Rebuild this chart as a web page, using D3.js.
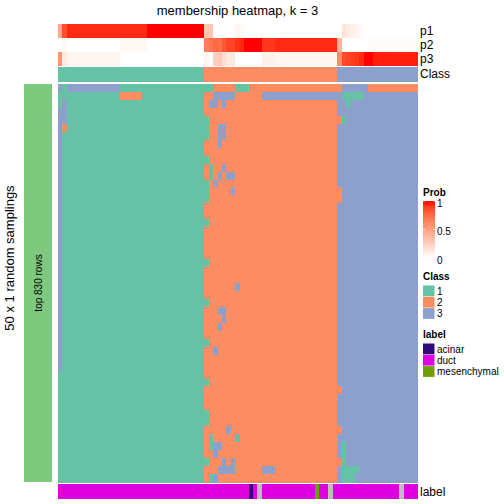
<!DOCTYPE html>
<html><head><meta charset="utf-8">
<script src="https://cdn.jsdelivr.net/npm/d3@7/dist/d3.min.js"></script>
<style>body{margin:0;background:#fff}svg{display:block;font-family:"Liberation Sans",Arial,Helvetica,sans-serif}</style>
</head><body><svg id="c" width="504" height="504"></svg>
<script>
// ---- data ----
const nCols = 81;
const classOfCol = ["1","1","1","1","1","1","1","1","1","1","1","1","1","1","1","1","1","1","1","1","1","1","1","1","1","1","1","1","1","1","1","1","1",
 "2","2","2","2","2","2","2","2","2","2","2","2","2","2","2","2","2","2","2","2","2","2","2","2","2","2","2","2","2","2",
 "3","3","3","3","3","3","3","3","3","3","3","3","3","3","3","3","3","3"];
const p1 = [0.45,0.85,0.95,0.95,0.95,0.95,0.95,0.95,0.95,0.95,0.95,0.95,0.95,0.95,0.95,0.95,0.95,0.95,0.95,0.95,1,1,1,1,1,1,1,1,1,1,1,1,1,
 0.3,0.3,0,0,0,0,0,0.05,0.03,0,0,0,0,0,0,0,0,0,0,0,0,0,0,0,0,0,0,0,0,0,
 0,0.15,0.1,0.08,0.05,0.03,0,0,0,0,0,0,0,0,0,0,0,0];
const p2 = [0,0.03,0,0,0,0,0,0,0,0,0,0,0,0,0.04,0.04,0.04,0.04,0.04,0.04,0,0,0,0,0,0,0,0,0,0,0,0,0,
 0.65,0.7,0.75,0.72,0.82,0.88,0.88,0.93,0.96,1,1,1,1,0.92,0.92,0.92,0.95,0.95,0.95,0.95,0.95,0.95,0.95,0.95,0.95,0.95,0.95,0.95,0.95,0.95,
 0.4,0,0,0,0,0,0,0.02,0.02,0.02,0.02,0.02,0.02,0.02,0.02,0.02,0.02,0.02];
const p3 = [0.55,0.12,0.05,0.05,0.05,0.05,0.05,0.05,0.05,0.05,0.05,0.05,0.05,0.05,0,0,0,0,0,0,0,0,0,0,0,0,0,0,0,0,0,0,0,
 0.05,0,0.25,0.28,0.18,0.12,0.12,0,0,0,0,0,0,0.07,0.07,0.07,0.05,0.05,0.05,0.05,0.05,0.05,0.05,0.05,0.05,0.05,0.05,0.05,0.05,0.05,
 0.6,0.85,0.88,0.9,0.92,0.95,1,1,0.97,0.97,0.97,0.97,0.97,0.97,0.97,0.97,0.97,0.97];
// label of each column as ranges
const labelRuns = "0-42:duct 43:acinar 44:duct 45:NA 46-57:duct 58:mesenchymal 59-60:duct 61:NA 62-76:duct 77:NA 78-80:duct";
// membership of each sampling (row) by column, as ranges "cols:class"
const rowRuns = [
"0:3 1:1 2-13:3 14-34:1 35-39:2 40-42:1 43-63:2 64-69:3 70-80:2",
"0-13:1 14-18:2 19-32:1 33-34:2 35-39:3 40-45:2 46-63:3 64-68:1 69-80:3",
"0:1 1:3 2-32:1 33:2 34-35:3 36:2 37:3 38-62:2 63-64:3 65:1 66-80:3",
"0-1:3 2-32:1 33-62:2 63-80:3",
"0-1:3 2-33:1 34-63:2 64:1 65-80:3",
"0:3 1:2 2-33:1 34-35:2 36-37:3 38-62:2 63-80:3",
"0:3 1-33:1 34-35:2 36-37:3 38-62:2 63-80:3",
"0:3 1-32:1 33-35:2 36:3 37-62:2 63-80:3",
"0:3 1-32:1 33-62:2 63-80:3",
"0:3 1-33:1 34-62:2 63-80:3",
"0:3 1-32:1 33:2 34:1 35-36:2 37:3 38-62:2 63-80:3",
"0:3 1-32:1 33:2 34:1 35:2 36:3 37:2 38-39:3 40-62:2 63-80:3",
"0:3 1-33:1 34:2 35:3 36-62:2 63-80:3",
"0:3 1-33:1 34-38:2 39:3 40-63:2 64-80:3",
"0:3 1-33:1 34-63:2 64-80:3",
"0:3 1-32:1 33-62:2 63-80:3",
"0:3 1-32:1 33-62:2 63-80:3",
"0:3 1-33:1 34-62:2 63-80:3",
"0:3 1-32:1 33-62:2 63-80:3",
"0:3 1-32:1 33-62:2 63-80:3",
"0:3 1-32:1 33-62:2 63-80:3",
"0:3 1-32:1 33-62:2 63-80:3",
"0:3 1-33:1 34-62:2 63-80:3",
"0:3 1-32:1 33-62:2 63-80:3",
"0:3 1-32:1 33-62:2 63-80:3",
"0:3 1-32:1 33-39:2 40:3 41-62:2 63-80:3",
"0:3 1-32:1 33-62:2 63-80:3",
"0:3 1-33:1 34-62:2 63-80:3",
"0:3 1-32:1 33-35:2 36-37:3 38-62:2 63-80:3",
"0:3 1-32:1 33-36:2 37:3 38-62:2 63-80:3",
"0:3 1-32:1 33-35:2 36:3 37-62:2 63-80:3",
"0:3 1-32:1 33-62:2 63-80:3",
"0:3 1-33:1 34-62:2 63-80:3",
"0:3 1-32:1 33-34:2 35:3 36-62:2 63-80:3",
"0:3 1-32:1 33-62:2 63-80:3",
"0:3 1-32:1 33-62:2 63-80:3",
"0-32:1 33-62:2 63-80:3",
"0-33:1 34-62:2 63-80:3",
"0-32:1 33-63:2 64-80:3",
"0-32:1 33-62:2 63-80:3",
"0-32:1 33-62:2 63-80:3",
"0-33:1 34-62:2 63-80:3",
"0-33:1 34-62:2 63-80:3",
"0-32:1 33-37:2 38:3 39-63:2 64-80:3",
"0-32:1 33:2 34:1 35-39:2 40:1 41-62:2 63-80:3",
"0-32:1 33:2 34:1 35-36:3 37-62:2 63:3 64:1 65-80:3",
"0-32:1 33-34:2 35:3 36-62:2 63:3 64:1 65-80:3",
"0-33:1 34-36:2 37:3 38:2 39:3 40-63:2 64:1 65-80:3",
"0-32:1 33-35:2 36-39:3 40-45:2 46-48:3 49-62:2 63:3 64-67:1 68-80:3",
"0-32:1 33:2 34:1 35:3 36-62:2 63:3 64-66:1 67-80:3"
];
const classNames = ["1","2","3"];
const classColors = ["#66C2A5","#FC8D62","#8DA0CB"];
const labelNames = ["acinar","duct","mesenchymal"];
const labelColors = ["#2E0A7A","#DE00DE","#6E9E0A"];
const naColor = "#BEBEBE";
const probTicks = [1, 0.5, 0];
const titleText = "membership heatmap, k = 3";
const rowTitle = "50 x 1 random samplings";
const sliceTitle = "top 830 rows";

// ---- helpers ----
function expand(runs){
  const out = new Array(nCols).fill(null);
  runs.split(/\s+/).forEach(tok=>{
    const [rng,val] = tok.split(":");
    const [a,b] = rng.split("-").map(Number);
    for(let i=a;i<=(isNaN(b)?a:b);i++) out[i]=val;
  });
  return out;
}
const matrix = rowRuns.map(expand);
const labels = expand(labelRuns);

const svg = d3.select("#c");
const x = d3.scaleBand().domain(d3.range(nCols)).range([58,417]);
const y = d3.scaleBand().domain(d3.range(rowRuns.length)).range([84,482]);
const cls = d3.scaleOrdinal().domain(classNames).range(classColors);
const lab = d3.scaleOrdinal().domain(labelNames).range(labelColors).unknown(naColor);
const prob = d3.scaleLinear().domain([0,1]).range(["#FFFFFF","#FF0000"]).interpolate(d3.interpolateLab);

// title
svg.append("text").attr("x",237.5).attr("y",15).attr("text-anchor","middle")
  .attr("font-size",13).text(titleText);

// top annotations
const annRows = [{name:"p1",vals:p1,y0:24,h:14},{name:"p2",vals:p2,y0:38,h:14},{name:"p3",vals:p3,y0:52,h:14}];
annRows.forEach(a=>{
  svg.append("g").attr("shape-rendering","crispEdges").selectAll("rect").data(a.vals).join("rect")
    .attr("x",(d,i)=>x(i)).attr("width",x.bandwidth()+0.5)
    .attr("y",a.y0).attr("height",a.h).attr("fill",d=>prob(d));
  svg.append("text").attr("x",420).attr("y",a.y0+a.h/2).attr("dy","0.36em")
    .attr("font-size",12).text(a.name);
});
svg.append("g").attr("shape-rendering","crispEdges").selectAll("rect").data(classOfCol).join("rect")
  .attr("x",(d,i)=>x(i)).attr("width",x.bandwidth()+0.5)
  .attr("y",67).attr("height",14.5).attr("fill",d=>cls(d));
svg.append("text").attr("x",420).attr("y",74).attr("dy","0.36em").attr("font-size",12).text("Class");

// heatmap body
const cells = [];
matrix.forEach((row,r)=>row.forEach((v,c)=>cells.push({r,c,v})));
svg.append("g").attr("shape-rendering","crispEdges").selectAll("rect").data(cells).join("rect")
  .attr("x",d=>x(d.c)).attr("y",d=>y(d.r))
  .attr("width",x.bandwidth()+0.5).attr("height",y.bandwidth()+0.5)
  .attr("fill",d=>cls(d.v));

// bottom label annotation
svg.append("g").attr("shape-rendering","crispEdges").selectAll("rect").data(labels).join("rect")
  .attr("x",(d,i)=>x(i)).attr("width",x.bandwidth()+0.5)
  .attr("y",484).attr("height",15).attr("fill",d=>lab(d==="NA"?null:d));
svg.append("text").attr("x",420).attr("y",491.5).attr("dy","0.36em").attr("font-size",12).text("label");

// left slice bar
svg.append("rect").attr("x",24).attr("y",84).attr("width",28).attr("height",398).attr("fill","#7FC97F");
svg.append("text").attr("transform","translate(41.5,283) rotate(-90)").attr("text-anchor","middle")
  .attr("font-size",10).text(sliceTitle);
svg.append("text").attr("transform","translate(14,258) rotate(-90)").attr("text-anchor","middle")
  .attr("font-size",13).text(rowTitle);

// legends
const lx = 423;
svg.append("text").attr("x",lx).attr("y",196).attr("font-size",10).attr("font-weight","bold").text("Prob");
const defs = svg.append("defs");
const grad = defs.append("linearGradient").attr("id","pg").attr("x1",0).attr("y1",1).attr("x2",0).attr("y2",0);
d3.range(0,1.0001,0.1).forEach(t=>grad.append("stop").attr("offset",t).attr("stop-color",prob(t)));
const py = d3.scaleLinear().domain([0,1]).range([258,201]);
svg.append("rect").attr("x",lx).attr("y",py(1)).attr("width",12).attr("height",py(0)-py(1)).attr("fill","url(#pg)");
probTicks.forEach(t=>{
  if(t>0 && t<=1){
    svg.append("line").attr("x1",lx).attr("x2",lx+2).attr("y1",py(t)).attr("y2",py(t)).attr("stroke","#fff").attr("stroke-width",0.8);
    svg.append("line").attr("x1",lx+10).attr("x2",lx+12).attr("y1",py(t)).attr("y2",py(t)).attr("stroke","#fff").attr("stroke-width",0.8);
  }
  svg.append("text").attr("x",lx+14).attr("y",py(t)+2).attr("dy","0.36em").attr("font-size",10).text(String(t));
});

svg.append("text").attr("x",lx).attr("y",280).attr("font-size",10).attr("font-weight","bold").text("Class");
classNames.forEach((n,i)=>{
  svg.append("rect").attr("x",lx).attr("y",285.5+i*11.3).attr("width",11.5).attr("height",10.8).attr("fill",cls(n));
  svg.append("text").attr("x",lx+14).attr("y",291+i*11.3).attr("dy","0.36em").attr("font-size",10).text(n);
});
svg.append("text").attr("x",lx).attr("y",338).attr("font-size",10).attr("font-weight","bold").text("label");
labelNames.forEach((n,i)=>{
  svg.append("rect").attr("x",lx).attr("y",343.5+i*11.3).attr("width",11.5).attr("height",10.8).attr("fill",lab(n));
  svg.append("text").attr("x",lx+14).attr("y",349+i*11.3).attr("dy","0.36em").attr("font-size",10).text(n);
});
</script></body></html>
